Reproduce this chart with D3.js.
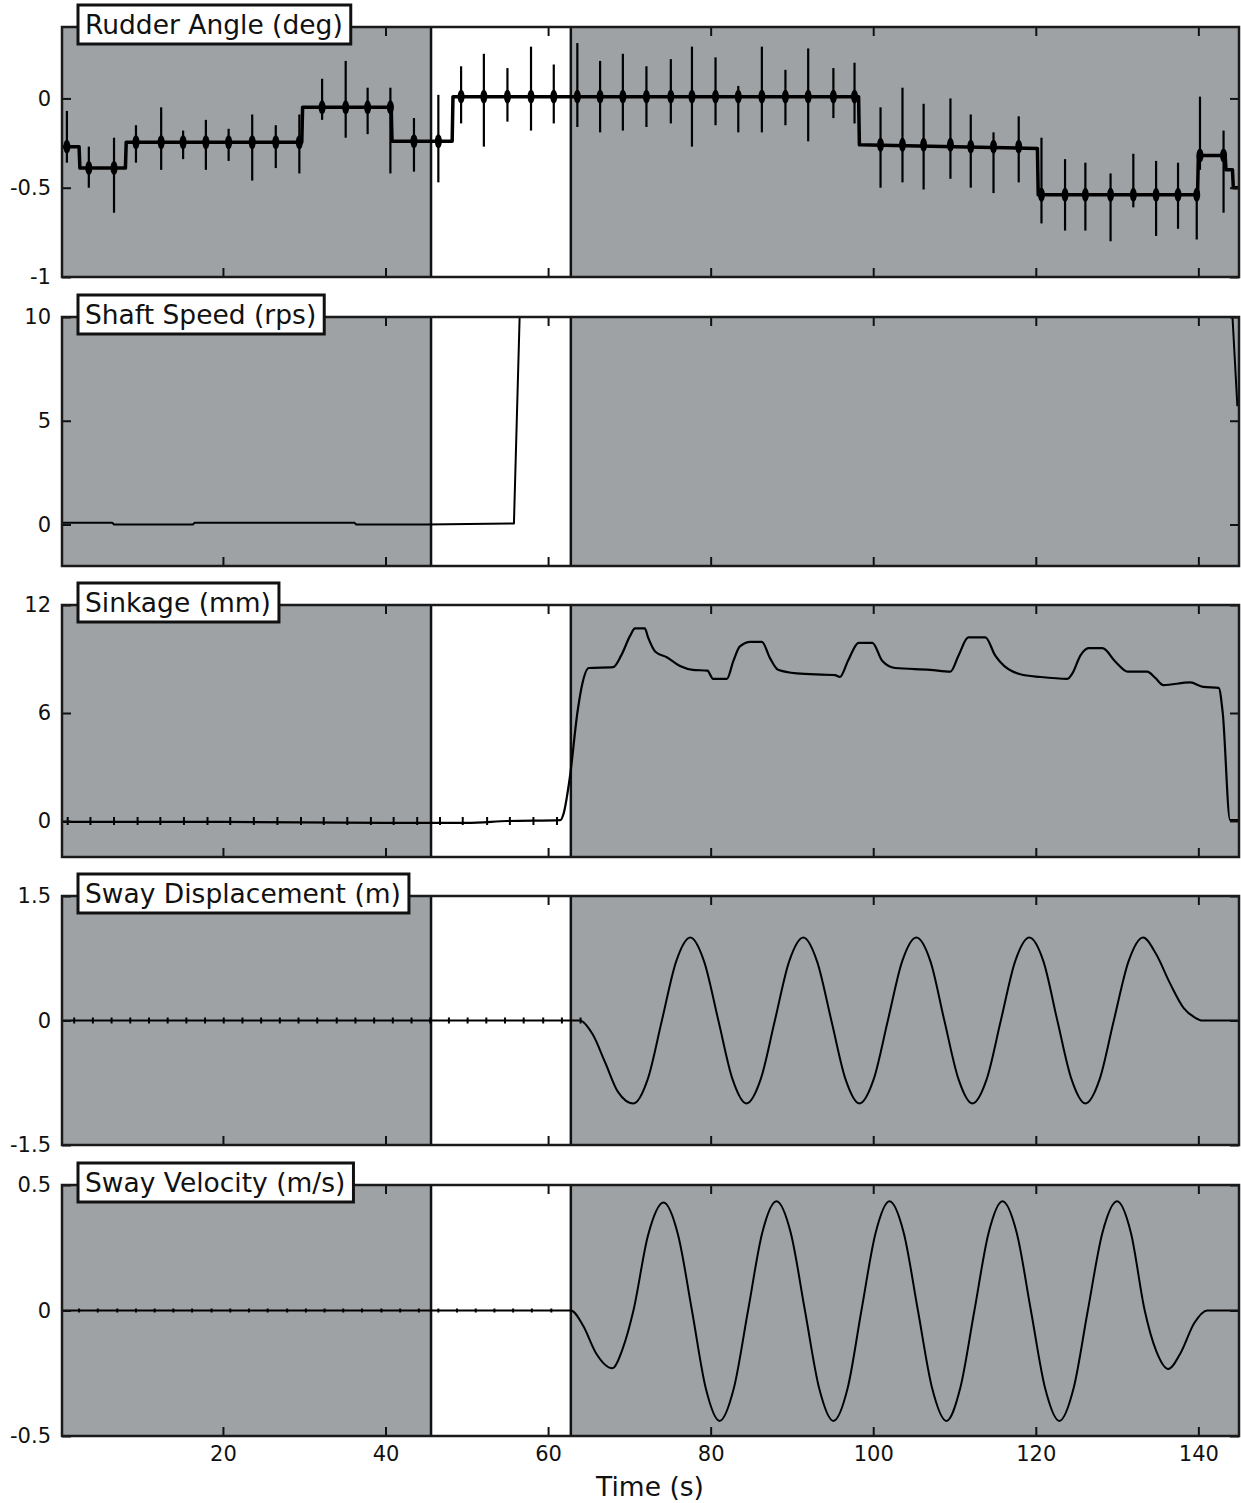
<!DOCTYPE html>
<html>
<head>
<meta charset="utf-8">
<script src="https://cdn.jsdelivr.net/npm/d3@7"></script>
<style>
  body { margin: 0; background: #fff; }
  text { font-family: "DejaVu Sans", sans-serif; fill: #111; }
</style>
</head>
<body>
<div class="chart"></div>
<script>
// time axis + shaded band (white = steady part)
var xDomain = [0.2, 145];
var xTicks = [20, 40, 60, 80, 100, 120, 140];
var bandStart = 45.6, bandEnd = 62.8;

// rudder angle: step baseline + spikes
var rudderStepT = [0.2, 2.3, 2.4, 8.0, 8.1, 29.7, 29.8, 40.7, 40.8, 48.2, 48.3, 98.2, 98.3, 110, 120.2, 120.3, 139.9, 140.0, 143.3, 143.4, 144.2, 144.3, 145];
var rudderStepV = [-0.27, -0.27, -0.39, -0.39, -0.245, -0.245, -0.05, -0.05, -0.24, -0.24, 0.01, 0.01, -0.26, -0.27, -0.28, -0.54, -0.54, -0.32, -0.32, -0.40, -0.40, -0.50, -0.50];
var rudderSpikeT  = [0.8, 3.5, 6.6, 9.3, 12.4, 15.1, 17.9, 20.7, 23.6, 26.5, 29.4, 32.2, 35.1, 37.8, 40.6, 43.5, 46.5, 49.3, 52.1, 55.0, 57.9, 60.7, 63.6, 66.4, 69.2, 72.1, 75.1, 77.7, 80.6, 83.4, 86.3, 89.2, 92.0, 95.1, 97.7, 100.9, 103.6, 106.2, 109.5, 112.0, 114.8, 117.9, 120.7, 123.6, 126.1, 129.2, 132.0, 134.8, 137.5, 139.8, 140.2, 143.1];
var rudderSpikeHi = [-0.07, -0.27, -0.22, -0.15, -0.05, -0.18, -0.12, -0.17, -0.09, -0.15, -0.09, 0.11, 0.21, 0.06, 0.06, -0.11, 0.02, 0.18, 0.25, 0.17, 0.29, 0.19, 0.31, 0.21, 0.25, 0.18, 0.22, 0.29, 0.23, 0.07, 0.29, 0.16, 0.28, 0.17, 0.20, -0.05, 0.06, -0.03, 0.0, -0.09, -0.19, -0.10, -0.22, -0.34, -0.36, -0.42, -0.31, -0.35, -0.36, -0.50, 0.01, -0.18];
var rudderSpikeLo = [-0.36, -0.50, -0.64, -0.36, -0.40, -0.34, -0.40, -0.35, -0.46, -0.39, -0.42, -0.12, -0.22, -0.20, -0.42, -0.41, -0.47, -0.14, -0.27, -0.13, -0.18, -0.14, -0.16, -0.19, -0.18, -0.16, -0.14, -0.27, -0.15, -0.19, -0.19, -0.15, -0.24, -0.11, -0.14, -0.50, -0.47, -0.51, -0.45, -0.50, -0.53, -0.47, -0.70, -0.74, -0.74, -0.80, -0.61, -0.77, -0.73, -0.79, -0.40, -0.64];

// shaft speed (rps), clipped at 10
var shaftT = [0.2, 6.4, 6.6, 16.3, 16.5, 36.2, 36.4, 45.0, 55.8, 56.5, 144.2, 144.8];
var shaftV = [0.08, 0.08, 0.0, 0.0, 0.08, 0.08, 0.0, 0.0, 0.05, 10.0, 10.0, 5.7];

// sinkage (mm)
var sinkT = [0.2, 20, 40, 50, 55, 61.5, 61.9, 62.7, 63.6, 64.2, 65.0, 68.0, 69.0, 70.1, 70.7, 71.9, 72.3, 73.2, 74.6, 76.3, 77.8, 79.6, 80.3, 82.0, 82.8, 83.6, 84.9, 86.3, 87.3, 88.3, 90.6, 95.3, 95.9, 96.9, 98.2, 99.9, 101.1, 102.7, 107.0, 109.5, 110.5, 111.7, 113.8, 115.0, 115.6, 118.1, 120.6, 123.9, 124.5, 125.5, 126.5, 128.2, 129.8, 131.3, 133.7, 134.7, 135.7, 139.0, 140.6, 142.5, 143.0, 143.9, 145];
var sinkV = [-0.05, -0.05, -0.1, -0.1, 0.0, 0.05, 0.4, 2.5, 6.0, 7.6, 8.5, 8.55, 9.2, 10.3, 10.7, 10.7, 10.2, 9.4, 9.1, 8.6, 8.4, 8.35, 7.9, 7.9, 8.9, 9.7, 9.95, 9.95, 9.05, 8.4, 8.2, 8.1, 8.0, 8.9, 9.9, 9.9, 8.9, 8.5, 8.4, 8.3, 9.2, 10.2, 10.2, 9.2, 8.85, 8.15, 8.0, 7.9, 8.2, 9.2, 9.6, 9.6, 8.85, 8.3, 8.3, 7.95, 7.55, 7.7, 7.45, 7.4, 6.0, 0.05, 0.05];
var sinkMarks = [0.9, 3.7, 6.6, 9.5, 12.3, 15.2, 18.1, 20.9, 23.8, 26.7, 29.6, 32.4, 35.3, 38.2, 41.0, 43.9, 46.7, 49.5, 52.5, 55.3, 58.2, 61.1];

// sway displacement (m)
var dispT = [0.2, 30, 60, 63.9, 65.5, 67.0, 68.6, 70.5, 72.25, 74.0, 75.75, 77.5, 79.2, 80.95, 82.7, 84.4, 86.15, 87.9, 89.65, 91.4, 93.1, 94.85, 96.6, 98.3, 100.05, 101.8, 103.55, 105.3, 107.05, 108.75, 110.5, 112.2, 113.95, 115.7, 117.45, 119.2, 120.95, 122.65, 124.4, 126.1, 127.85, 129.6, 131.4, 133.2, 134.8, 136.5, 138.2, 139.5, 140.5, 142.5, 145];
var dispV = [0, 0, 0, 0, -0.17, -0.5, -0.86, -1.0, -0.71, 0, 0.71, 1.0, 0.71, 0, -0.71, -1.0, -0.71, 0, 0.71, 1.0, 0.71, 0, -0.71, -1.0, -0.71, 0, 0.71, 1.0, 0.71, 0, -0.71, -1.0, -0.71, 0, 0.71, 1.0, 0.71, 0, -0.71, -1.0, -0.71, 0, 0.71, 1.0, 0.8, 0.45, 0.15, 0.04, 0, 0, 0];
var dispMarks = [1.7, 4.0, 6.3, 8.6, 10.9, 13.2, 15.5, 17.8, 20.1, 22.4, 24.7, 27.0, 29.3, 31.6, 34.0, 36.3, 38.6, 40.9, 43.2, 45.5, 47.8, 50.1, 52.4, 54.7, 57.0, 59.4, 61.7, 64.0];

// sway velocity (m/s)
var velT = [0.2, 30, 60, 62.8, 64.3, 65.9, 67.9, 69.2, 70.5, 72.3, 74.2, 76.0, 77.7, 79.4, 81.1, 82.85, 84.6, 86.35, 88.1, 89.85, 91.6, 93.35, 95.1, 96.85, 98.55, 100.3, 102.0, 103.75, 105.5, 107.25, 109.0, 110.7, 112.45, 114.2, 115.9, 117.65, 119.4, 121.15, 122.9, 124.65, 126.4, 128.2, 130.0, 131.7, 133.4, 134.8, 136.3, 137.8, 139.5, 141.1, 143, 145];
var velV = [0, 0, 0, 0, -0.06, -0.17, -0.23, -0.15, 0, 0.3, 0.43, 0.3, 0, -0.31, -0.44, -0.31, 0, 0.31, 0.435, 0.31, 0, -0.31, -0.44, -0.31, 0, 0.31, 0.435, 0.31, 0, -0.31, -0.44, -0.31, 0, 0.31, 0.435, 0.31, 0, -0.31, -0.44, -0.31, 0, 0.31, 0.435, 0.31, 0, -0.16, -0.233, -0.17, -0.05, 0, 0, 0];
var velMarks = [2.3, 4.6, 7.0, 9.3, 11.6, 13.9, 16.2, 18.6, 20.9, 23.2, 25.5, 27.9, 30.2, 32.5, 34.8, 37.1, 39.5, 41.8, 44.1, 46.5, 48.8, 51.1, 53.4, 55.7, 58.0, 60.4];

function zip(ts, vs) { return ts.map(function(t, i) { return [t, vs[i]]; }); }
function stepValue(t) {
  var v = rudderStepV[0];
  for (var i = 0; i < rudderStepT.length; i++) { if (rudderStepT[i] <= t) v = rudderStepV[i]; }
  return v;
}
var rudderSpikes = rudderSpikeT.map(function(t, i) {
  return {t: t, hi: rudderSpikeHi[i], lo: rudderSpikeLo[i], base: stepValue(t)};
});

var panels = [
  {title: "Rudder Angle (deg)", top: 27, h: 250, domain: [-1, 0.4], ticks: [0, -0.5, -1], labels: ["0", "-0.5", "-1"], pts: zip(rudderStepT, rudderStepV), curve: d3.curveLinear, width: 3.5, marks: [], spikes: rudderSpikes},
  {title: "Shaft Speed (rps)", top: 317, h: 249, domain: [-2, 10], ticks: [10, 5, 0], labels: ["10", "5", "0"], pts: zip(shaftT, shaftV), curve: d3.curveLinear, width: 2, marks: []},
  {title: "Sinkage (mm)", top: 605, h: 252, domain: [-2, 12], ticks: [12, 6, 0], labels: ["12", "6", "0"], pts: zip(sinkT, sinkV), curve: d3.curveMonotoneX, width: 2.2, marks: sinkMarks, mh: 4},
  {title: "Sway Displacement (m)", top: 896, h: 249, domain: [-1.5, 1.5], ticks: [1.5, 0, -1.5], labels: ["1.5", "0", "-1.5"], pts: zip(dispT, dispV), curve: d3.curveMonotoneX, width: 2, marks: dispMarks, mh: 3},
  {title: "Sway Velocity (m/s)", top: 1185, h: 251, domain: [-0.5, 0.5], ticks: [0.5, 0, -0.5], labels: ["0.5", "0", "-0.5"], pts: zip(velT, velV), curve: d3.curveMonotoneX, width: 2, marks: velMarks, mh: 2}
];

var width = 1241, height = 1503;
var left = 62, right = 1239;

var svg = d3.select(".chart").append("svg")
  .attr("width", width)
  .attr("height", height);

var x = d3.scaleLinear().domain(xDomain).range([left, right]);

panels.forEach(function(p, k) {
  var y = d3.scaleLinear().domain(p.domain).range([p.top + p.h, p.top]);
  var g = svg.append("g");

  g.append("clipPath").attr("id", "clip" + k)
    .append("rect").attr("x", left).attr("y", p.top).attr("width", right - left).attr("height", p.h);

  // background
  g.append("rect").attr("x", left).attr("y", p.top).attr("width", right - left).attr("height", p.h)
    .attr("fill", "#9ea2a5");
  g.append("rect").attr("x", x(bandStart)).attr("y", p.top).attr("width", x(bandEnd) - x(bandStart)).attr("height", p.h)
    .attr("fill", "#ffffff");
  [bandStart, bandEnd].forEach(function(t) {
    g.append("line").attr("x1", x(t)).attr("x2", x(t)).attr("y1", p.top).attr("y2", p.top + p.h)
      .attr("stroke", "#111").attr("stroke-width", 2.5);
  });

  var plot = g.append("g").attr("clip-path", "url(#clip" + k + ")");

  // data line
  var line = d3.line().x(function(d) { return x(d[0]); }).y(function(d) { return y(d[1]); }).curve(p.curve);
  plot.append("path").datum(p.pts)
    .attr("d", line)
    .attr("fill", "none").attr("stroke", "#000").attr("stroke-width", p.width)
    .attr("stroke-linejoin", "round");

  // rudder spikes: vertical bursts with a dark blob on the baseline
  if (p.spikes) {
    plot.selectAll(".blob").data(p.spikes).enter().append("ellipse")
      .attr("cx", function(d) { return x(d.t); })
      .attr("cy", function(d) { return y(d.base); })
      .attr("rx", 3.5)
      .attr("ry", 7)
      .attr("fill", "#000");
    plot.selectAll(".spike").data(p.spikes).enter().append("line")
      .attr("x1", function(d) { return x(d.t); }).attr("x2", function(d) { return x(d.t); })
      .attr("y1", function(d) { return y(d.hi); }).attr("y2", function(d) { return y(d.lo); })
      .attr("stroke", "#000").attr("stroke-width", 2.2);
  }

  // little sample markers on the flat part
  plot.selectAll(".mk").data(p.marks).enter().append("line")
    .attr("x1", function(d) { return x(d); }).attr("x2", function(d) { return x(d); })
    .attr("y1", y(0) - p.mh).attr("y2", y(0) + p.mh)
    .attr("stroke", "#000").attr("stroke-width", 2);

  // axes with inward ticks
  function style(a) {
    a.select(".domain").remove();
    a.selectAll(".tick line").attr("stroke", "#111").attr("stroke-width", 2);
    a.selectAll(".tick text").style("font-size", "21px").style("font-family", "DejaVu Sans, sans-serif").attr("fill", "#111");
  }
  var yl = g.append("g").attr("transform", "translate(" + left + ",0)")
    .call(d3.axisLeft(y).tickValues(p.ticks).tickSize(-9).tickPadding(11)
      .tickFormat(function(d, i) { return p.labels[i]; }));
  style(yl);
  var yr = g.append("g").attr("transform", "translate(" + right + ",0)")
    .call(d3.axisRight(y).tickValues(p.ticks).tickSize(-9).tickFormat(""));
  style(yr);
  var xt = g.append("g").attr("transform", "translate(0," + p.top + ")")
    .call(d3.axisTop(x).tickValues(xTicks).tickSize(-9).tickFormat(""));
  style(xt);
  var xb = g.append("g").attr("transform", "translate(0," + (p.top + p.h) + ")")
    .call(d3.axisBottom(x).tickValues(xTicks).tickSize(-9).tickPadding(10)
      .tickFormat(k === panels.length - 1 ? d3.format("d") : ""));
  style(xb);

  // frame
  g.append("rect").attr("x", left).attr("y", p.top).attr("width", right - left).attr("height", p.h)
    .attr("fill", "none").attr("stroke", "#1a1a1a").attr("stroke-width", 2.5);

  // title box
  var tb = g.append("g");
  var txt = tb.append("text").attr("x", 85).attr("y", p.top + 7)
    .style("font-size", "26.5px").text(p.title);
  var tw = txt.node().getComputedTextLength();
  tb.insert("rect", "text").attr("x", 78).attr("y", p.top - 22).attr("width", tw + 15).attr("height", 39)
    .attr("fill", "#fff").attr("stroke", "#111").attr("stroke-width", 3);
});

svg.append("text")
  .attr("x", 650).attr("y", 1496)
  .attr("text-anchor", "middle")
  .style("font-size", "26.5px")
  .text("Time (s)");
</script>
</body>
</html>
